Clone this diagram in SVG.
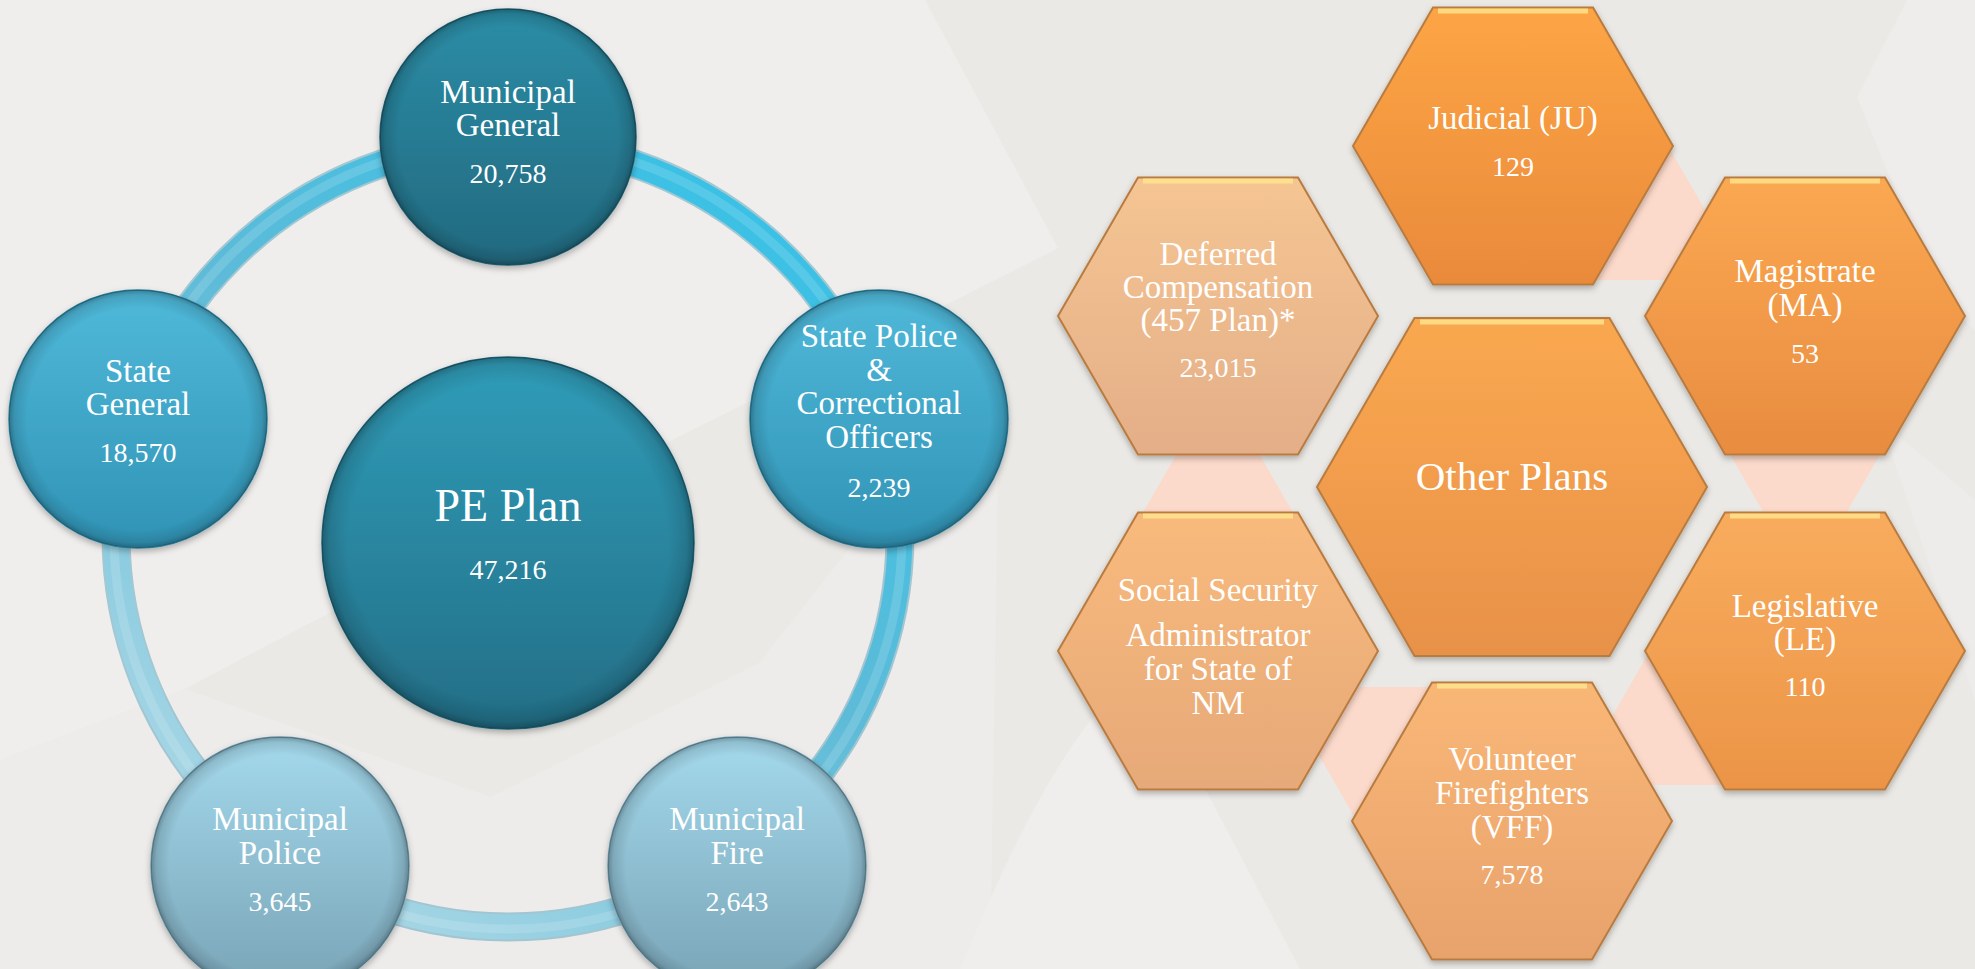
<svg xmlns="http://www.w3.org/2000/svg" width="1975" height="969" viewBox="0 0 1975 969">
<defs>
<style>
.lbl{font-family:"Liberation Serif","DejaVu Serif",serif;fill:#fff;text-anchor:middle}
.t{font-size:33px}
.n{font-size:28px}
.hex{stroke:#b97b40;stroke-width:2}
.hl{stroke:#ffe78e;stroke-width:5;stroke-opacity:.8}
.cn{fill:#fcdacb}
.circ{stroke-width:1.5}
</style>
<filter id="sh" x="-20%" y="-20%" width="140%" height="140%"><feDropShadow dx="0" dy="3" stdDeviation="3" flood-color="#000" flood-opacity=".28"/></filter>
<radialGradient id="edge" cx="50%" cy="50%" r="50%"><stop offset=".86" stop-color="#000" stop-opacity="0"/><stop offset=".96" stop-color="#000" stop-opacity=".12"/><stop offset="1" stop-color="#000" stop-opacity=".3"/></radialGradient>
<linearGradient id="gMG" x1="0" y1="0" x2="0" y2="1"><stop offset="0" stop-color="#2b8da6"/><stop offset="1" stop-color="#22697f"/></linearGradient>
<linearGradient id="gPE" x1="0" y1="0" x2="0" y2="1"><stop offset="0" stop-color="#309db9"/><stop offset="1" stop-color="#236e86"/></linearGradient>
<linearGradient id="gSG" x1="0" y1="0" x2="0" y2="1"><stop offset="0" stop-color="#50b9da"/><stop offset="1" stop-color="#3093b5"/></linearGradient>
<linearGradient id="gMP" x1="0" y1="0" x2="0" y2="1"><stop offset="0" stop-color="#a4d9ec"/><stop offset="1" stop-color="#78a3b5"/></linearGradient>
<linearGradient id="ringG" x1=".85" y1="0" x2=".15" y2="1"><stop offset="0" stop-color="#33c2e8"/><stop offset=".45" stop-color="#5dbbd8"/><stop offset="1" stop-color="#b4dbe7"/></linearGradient>
<linearGradient id="hJ" x1="0" y1="0" x2="0" y2="1"><stop offset="0" stop-color="#fda545"/><stop offset="1" stop-color="#e98a3b"/></linearGradient>
<linearGradient id="hM" x1="0" y1="0" x2="0" y2="1"><stop offset="0" stop-color="#fba852"/><stop offset="1" stop-color="#e88c40"/></linearGradient>
<linearGradient id="hO" x1="0" y1="0" x2="0" y2="1"><stop offset="0" stop-color="#faa850"/><stop offset="1" stop-color="#e89149"/></linearGradient>
<linearGradient id="hL" x1="0" y1="0" x2="0" y2="1"><stop offset="0" stop-color="#f9ac5d"/><stop offset="1" stop-color="#eb9447"/></linearGradient>
<linearGradient id="hV" x1="0" y1="0" x2="0" y2="1"><stop offset="0" stop-color="#f9b776"/><stop offset="1" stop-color="#e8a26c"/></linearGradient>
<linearGradient id="hS" x1="0" y1="0" x2="0" y2="1"><stop offset="0" stop-color="#f8ba7b"/><stop offset="1" stop-color="#e6a979"/></linearGradient>
<linearGradient id="hD" x1="0" y1="0" x2="0" y2="1"><stop offset="0" stop-color="#f5c592"/><stop offset="1" stop-color="#e4ae88"/></linearGradient>
</defs>

<g id="background">
<rect width="1975" height="969" fill="#eae9e5"/>
<path d="M0,0 H925 L1058,248 C900,330 500,520 185,689 L0,760 Z" fill="#efeeec"/>
<path d="M0,760 L185,689 L491,797 L759,663 L1000,357 L990,969 H0 Z" fill="#edecea"/>
<path d="M960,969 C1010,850 1060,740 1140,665 L1300,969 Z" fill="#efeeec"/>
<path d="M1907,0 H1975 V330 L1940,300 L1857,97 Z" fill="#eeedeb"/>
<path d="M1880,420 L1975,500 V700 Z" fill="#edecea"/>
</g>

<g id="connectors">
<circle cx="508" cy="535" r="392" fill="none" stroke="#2f8fae" stroke-opacity=".4" stroke-width="29"/>
<circle cx="508" cy="535" r="392" fill="none" stroke="url(#ringG)" stroke-width="25"/>
<circle cx="508" cy="535" r="394" fill="none" stroke="#fff" stroke-opacity=".14" stroke-width="9"/>
<polygon class="cn" points="1558,215 1595.5,150 1670.5,150 1708,215 1670.5,280 1595.5,280"/>
<polygon class="cn" points="1730,454.5 1767.5,389.5 1842.5,389.5 1880,454.5 1842.5,519.5 1767.5,519.5"/>
<polygon class="cn" points="1610,720 1647.5,655 1722.5,655 1760,720 1722.5,785 1647.5,785"/>
<polygon class="cn" points="1317,752 1354.5,687 1429.5,687 1467,752 1429.5,817 1354.5,817"/>
<polygon class="cn" points="1143,512.5 1180.5,447.5 1255.5,447.5 1293,512.5 1255.5,577.5 1180.5,577.5"/>
</g>

<g id="node-pe-plan">
<circle cx="508" cy="543" r="186" fill="url(#gPE)" stroke="#1f6378" class="circ" filter="url(#sh)"/>
<circle cx="508" cy="543" r="186" fill="url(#edge)"/>
<text class="lbl" x="508" y="521" font-size="46">PE Plan</text>
<text class="lbl n" x="508" y="579">47,216</text>
</g>

<g id="node-municipal-general">
<circle cx="508" cy="137" r="128" fill="url(#gMG)" stroke="#1d5f73" class="circ" filter="url(#sh)"/>
<circle cx="508" cy="137" r="128" fill="url(#edge)"/>
<text class="lbl t" x="508" y="103">Municipal</text>
<text class="lbl t" x="508" y="136">General</text>
<text class="lbl n" x="508" y="183">20,758</text>
</g>

<g id="node-state-general">
<circle cx="138" cy="419" r="129" fill="url(#gSG)" stroke="#2a7f9c" class="circ" filter="url(#sh)"/>
<circle cx="138" cy="419" r="129" fill="url(#edge)"/>
<text class="lbl t" x="138" y="382">State</text>
<text class="lbl t" x="138" y="415">General</text>
<text class="lbl n" x="138" y="462">18,570</text>
</g>

<g id="node-state-police">
<circle cx="879" cy="419" r="129" fill="url(#gSG)" stroke="#2a7f9c" class="circ" filter="url(#sh)"/>
<circle cx="879" cy="419" r="129" fill="url(#edge)"/>
<text class="lbl t" x="879" y="347">State Police</text>
<text class="lbl t" x="879" y="381">&amp;</text>
<text class="lbl t" x="879" y="414">Correctional</text>
<text class="lbl t" x="879" y="448">Officers</text>
<text class="lbl n" x="879" y="497">2,239</text>
</g>

<g id="node-municipal-police">
<circle cx="280" cy="866" r="129" fill="url(#gMP)" stroke="#6a96a8" class="circ" filter="url(#sh)"/>
<circle cx="280" cy="866" r="129" fill="url(#edge)"/>
<text class="lbl t" x="280" y="830">Municipal</text>
<text class="lbl t" x="280" y="864">Police</text>
<text class="lbl n" x="280" y="911">3,645</text>
</g>

<g id="node-municipal-fire">
<circle cx="737" cy="866" r="129" fill="url(#gMP)" stroke="#6a96a8" class="circ" filter="url(#sh)"/>
<circle cx="737" cy="866" r="129" fill="url(#edge)"/>
<text class="lbl t" x="737" y="830">Municipal</text>
<text class="lbl t" x="737" y="864">Fire</text>
<text class="lbl n" x="737" y="911">2,643</text>
</g>

<g id="node-judicial">
<polygon class="hex" fill="url(#hJ)" filter="url(#sh)" points="1353,146 1433,7.5 1593,7.5 1673,146 1593,284.5 1433,284.5"/>
<line class="hl" x1="1438" y1="11" x2="1588" y2="11"/>
<text class="lbl t" x="1513" y="129">Judicial (JU)</text>
<text class="lbl n" x="1513" y="176">129</text>
</g>

<g id="node-deferred-compensation">
<polygon class="hex" fill="url(#hD)" filter="url(#sh)" points="1058,316 1138,177.5 1298,177.5 1378,316 1298,454.5 1138,454.5"/>
<line class="hl" x1="1143" y1="181" x2="1293" y2="181"/>
<text class="lbl t" x="1218" y="265">Deferred</text>
<text class="lbl t" x="1218" y="298">Compensation</text>
<text class="lbl t" x="1218" y="331">(457 Plan)*</text>
<text class="lbl n" x="1218" y="377">23,015</text>
</g>

<g id="node-magistrate">
<polygon class="hex" fill="url(#hM)" filter="url(#sh)" points="1645,316 1725,177.5 1885,177.5 1965,316 1885,454.5 1725,454.5"/>
<line class="hl" x1="1730" y1="181" x2="1880" y2="181"/>
<text class="lbl t" x="1805" y="282">Magistrate</text>
<text class="lbl t" x="1805" y="316">(MA)</text>
<text class="lbl n" x="1805" y="363">53</text>
</g>

<g id="node-other-plans">
<polygon class="hex" fill="url(#hO)" filter="url(#sh)" points="1317,487 1414.5,318 1609.5,318 1707,487 1609.5,656 1414.5,656"/>
<line class="hl" x1="1420" y1="322" x2="1604" y2="322"/>
<text class="lbl" x="1512" y="490" font-size="41">Other Plans</text>
</g>

<g id="node-social-security">
<polygon class="hex" fill="url(#hS)" filter="url(#sh)" points="1058,651 1138,512.5 1298,512.5 1378,651 1298,789.5 1138,789.5"/>
<line class="hl" x1="1143" y1="516" x2="1293" y2="516"/>
<text class="lbl t" x="1218" y="601">Social Security</text>
<text class="lbl t" x="1218" y="646">Administrator</text>
<text class="lbl t" x="1218" y="680">for State of</text>
<text class="lbl t" x="1218" y="714">NM</text>
</g>

<g id="node-legislative">
<polygon class="hex" fill="url(#hL)" filter="url(#sh)" points="1645,651 1725,512.5 1885,512.5 1965,651 1885,789.5 1725,789.5"/>
<line class="hl" x1="1730" y1="516" x2="1880" y2="516"/>
<text class="lbl t" x="1805" y="617">Legislative</text>
<text class="lbl t" x="1805" y="650">(LE)</text>
<text class="lbl n" x="1805" y="696">110</text>
</g>

<g id="node-volunteer-firefighters">
<polygon class="hex" fill="url(#hV)" filter="url(#sh)" points="1352,821 1432,682.5 1592,682.5 1672,821 1592,959.5 1432,959.5"/>
<line class="hl" x1="1437" y1="686" x2="1587" y2="686"/>
<text class="lbl t" x="1512" y="770">Volunteer</text>
<text class="lbl t" x="1512" y="804">Firefighters</text>
<text class="lbl t" x="1512" y="838">(VFF)</text>
<text class="lbl n" x="1512" y="884">7,578</text>
</g>
</svg>
